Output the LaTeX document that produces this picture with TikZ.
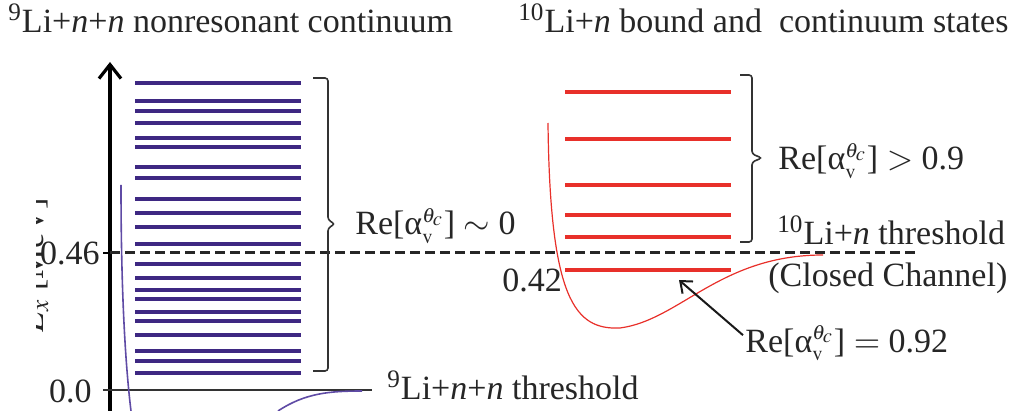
\documentclass[tikz,border=0pt]{standalone}
\usepackage{mathptmx}
\usepackage{fontspec}
\setmainfont{Liberation Serif}
\usetikzlibrary{arrows.meta}

\definecolor{levelpurple}{RGB}{62,40,130}
\definecolor{curvepurple}{RGB}{95,75,165}
\definecolor{levelred}{RGB}{232,48,42}

\newcommand{\realpha}{Re[α$_{\scriptscriptstyle\mathrm{v}}^{\scriptscriptstyle\theta_c}$]}

\begin{document}
\begin{tikzpicture}[x=0.5pt, y=-0.5pt]
    \useasboundingbox (0,0) rectangle (1023,411);
    {
        \tikzset{every node/.style = {inner sep=0pt, text=black!85, font=\fontsize{17}{20}\selectfont}}

        \node[anchor=base west] (title9) at (8,33) {\textsuperscript{9}Li+\textit{n}+\textit{n} nonresonant continuum};
        \node[anchor=base west] (title10) at (518,33) {\textsuperscript{10}Li+\textit{n} bound and\ \ continuum states};

        \node[anchor=base east] (e46) at (100,265) {0.46};
        \node[anchor=base east] (e00) at (92,402) {0.0};
        \node[anchor=base west] (e42) at (502,292) {0.42};

        \node[anchor=base west] (re0) at (355,235) {\realpha{} $\sim$ 0};
        \node[anchor=base west] (re09) at (778,170) {\realpha{} $>$ 0.9};
        \node[anchor=base west] (re092) at (745,352) {\realpha{} $=$ 0.92};

        \node[anchor=base west] (thr9) at (387,400) {\textsuperscript{9}Li+\textit{n}+\textit{n} threshold};
        \node[anchor=base west] (thr10) at (777,245) {\textsuperscript{10}Li+\textit{n} threshold};
        \node[anchor=base west] (closed) at (768,287) {(Closed Channel)};
    }

    % y axis label, cut at the left edge
    \begin{scope}
        \clip (36,150) rectangle (60,345);
        \node[rotate=90, anchor=base, inner sep=0pt, text=black!85, font=\fontsize{17}{20}\selectfont] (ylab) at (43,265) {$E_x$ [MeV]};
    \end{scope}

    % axis and ticks
    \draw[line width=1.6pt, -{Straight Barb[length=7pt, width=11pt, line width=1.6pt]}] (110,411) -- (110,62);
    \draw[line width=1.4pt] (103,253) -- (110,253);
    \draw[line width=1.2pt, black!80] (103,390) -- (372,390);

    % 10Li+n threshold
    \draw[line width=1.5pt, black!85, dash pattern=on 5pt off 2.5pt] (110,253) -- (918,253);

    % 9Li+n+n continuum
    \foreach \y in {83,101,111,123,138,147,167,178,199,213,227,244,264,278,290,299,312,321,335,351,361,373}
        \draw[levelpurple, line width=2pt] (135,\y) -- (301,\y);
    \draw[curvepurple, line width=0.8pt] (121,185) .. controls (121,300) and (126,370) .. (131,411);
    \draw[curvepurple, line width=0.8pt] (278,411) .. controls (305,393) and (330,391) .. (362,391);

    % 10Li+n states
    \foreach \y in {92,139,185,215,237,270}
        \draw[levelred, line width=2pt] (565,\y) -- (731,\y);
    \draw[levelred, line width=0.6pt] (548,123) .. controls (550,300) and (575,330) .. (620,328)
        .. controls (680,320) and (720,255) .. (823,255);

    % brackets
    \draw[black!80, line width=0.8pt, rounded corners=1.5pt]
        (313,78) -| (328,220) -- (335,224) -- (328,228) |- (313,371);
    \draw[black!80, line width=0.8pt, rounded corners=1.5pt]
        (740,75) -| (752,154) -- (762,158) -- (752,162) |- (740,242);

    % arrow to the bound state
    \coordinate (bound) at (679,280);
    \draw[line width=1pt, black!90, -{Straight Barb[length=5pt, width=8pt]}] (re092.west) ++(-2,-8) -- (bound);
\end{tikzpicture}
\end{document}
